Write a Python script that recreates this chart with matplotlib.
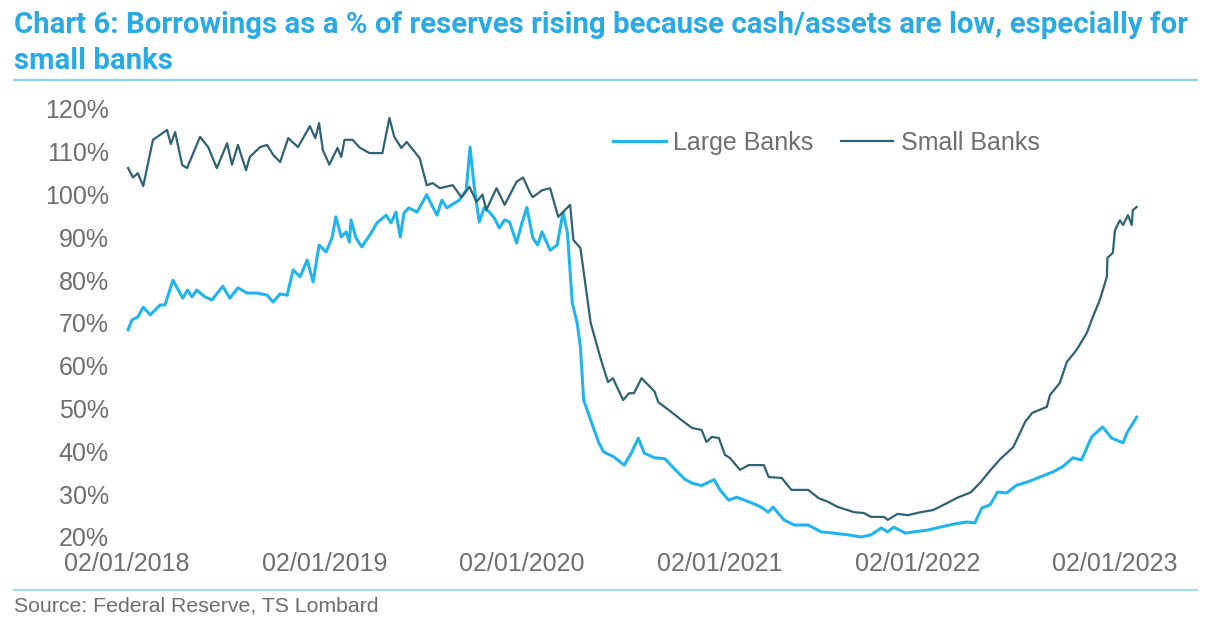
import matplotlib
matplotlib.use("Agg")
import matplotlib.pyplot as plt
from matplotlib.lines import Line2D
from matplotlib import font_manager
import pandas as pd

# ---------------- data ----------------
small_dates = [
    "2018-01-04", "2018-01-13", "2018-01-22", "2018-02-01", "2018-02-19", "2018-03-17",
    "2018-03-24", "2018-04-01", "2018-04-14", "2018-04-23", "2018-05-17", "2018-06-01",
    "2018-06-17", "2018-07-06", "2018-07-15", "2018-07-26", "2018-08-10", "2018-08-17",
    "2018-09-05", "2018-09-18", "2018-09-29", "2018-10-12", "2018-10-27", "2018-11-14",
    "2018-12-06", "2018-12-16", "2018-12-23", "2018-12-30", "2019-01-11", "2019-01-26",
    "2019-02-02", "2019-02-08", "2019-02-23", "2019-03-08", "2019-03-26", "2019-04-19",
    "2019-05-02", "2019-05-11", "2019-05-24", "2019-06-03", "2019-06-27", "2019-07-10",
    "2019-07-21", "2019-08-03", "2019-08-27", "2019-09-12", "2019-09-27", "2019-10-10",
    "2019-10-21", "2019-10-28", "2019-11-16", "2019-12-01", "2019-12-23", "2020-01-04",
    "2020-01-17", "2020-01-22", "2020-02-08", "2020-02-23", "2020-03-09", "2020-03-31",
    "2020-04-06", "2020-04-19", "2020-05-08", "2020-05-27", "2020-06-09", "2020-06-18",
    "2020-07-07", "2020-07-18", "2020-07-27", "2020-08-10", "2020-09-03", "2020-09-10",
    "2020-09-29", "2020-10-23", "2020-11-11", "2020-11-29", "2020-12-08", "2020-12-18",
    "2020-12-31", "2021-01-11", "2021-01-20", "2021-02-08", "2021-02-24", "2021-03-24",
    "2021-04-02", "2021-04-26", "2021-05-14", "2021-06-14", "2021-07-03", "2021-07-21",
    "2021-08-08", "2021-09-07", "2021-09-25", "2021-10-08", "2021-11-01", "2021-11-08",
    "2021-11-26", "2021-12-15", "2022-01-08", "2022-01-31", "2022-02-19", "2022-03-17",
    "2022-04-10", "2022-04-28", "2022-05-16", "2022-06-04", "2022-06-28", "2022-07-20",
    "2022-08-02", "2022-08-29", "2022-09-04", "2022-09-22", "2022-10-05", "2022-10-23",
    "2022-11-11", "2022-11-22", "2022-12-05", "2022-12-18", "2022-12-19", "2022-12-29",
    "2023-01-02", "2023-01-11", "2023-01-17", "2023-01-26", "2023-02-02", "2023-02-04",
    "2023-02-11",
]
small_banks = [
    106.2, 104.0, 105.0, 102.0, 112.8, 115.1,
    111.8, 114.6, 106.9, 106.2, 113.5, 111.1,
    106.2, 112.0, 107.0, 111.6, 105.7, 108.8,
    111.1, 111.6, 109.3, 107.6, 113.2, 111.1,
    116.0, 113.2, 116.7, 110.4, 107.0, 110.9,
    108.8, 112.8, 112.8, 111.0, 109.7, 109.7,
    117.9, 113.5, 110.9, 112.3, 108.5, 102.2,
    102.7, 101.5, 102.2, 99.4, 101.8, 98.3,
    100.0, 96.4, 101.5, 97.6, 103.0, 104.0,
    100.4, 99.4, 101.0, 101.5, 94.8, 97.6,
    89.4, 87.5, 70.0, 61.4, 56.2, 57.1,
    52.0, 53.6, 53.6, 57.1, 54.0, 51.5,
    49.7, 47.3, 45.5, 45.0, 42.2, 43.4,
    43.1, 39.2, 38.5, 35.7, 36.8, 36.8,
    34.0, 33.8, 31.0, 31.0, 29.1, 28.2,
    27.0, 25.8, 25.6, 24.7, 24.7, 24.0,
    25.4, 25.1, 25.8, 26.3, 27.5, 29.2,
    30.4, 32.7, 35.5, 38.2, 41.0, 46.9,
    49.0, 50.4, 53.2, 56.0, 60.9, 63.7,
    67.7, 71.4, 75.4, 80.8, 85.2, 86.4,
    91.7, 94.0, 92.9, 95.2, 92.9, 96.4,
    97.1,
]

large_dates = [
    "2018-01-04", "2018-01-11", "2018-01-22", "2018-02-01", "2018-02-14", "2018-03-04",
    "2018-03-13", "2018-03-28", "2018-04-15", "2018-04-24", "2018-05-02", "2018-05-11",
    "2018-05-26", "2018-06-08", "2018-06-28", "2018-07-11", "2018-07-26", "2018-08-12",
    "2018-08-31", "2018-09-18", "2018-09-29", "2018-10-12", "2018-10-25", "2018-11-05",
    "2018-11-18", "2018-12-01", "2018-12-12", "2018-12-23", "2019-01-05", "2019-01-16",
    "2019-01-23", "2019-02-02", "2019-02-11", "2019-02-17", "2019-02-20", "2019-03-01",
    "2019-03-12", "2019-03-29", "2019-04-09", "2019-04-26", "2019-05-05", "2019-05-14",
    "2019-05-22", "2019-05-29", "2019-06-07", "2019-06-22", "2019-07-10", "2019-07-19",
    "2019-07-29", "2019-08-07", "2019-08-16", "2019-09-08", "2019-09-21", "2019-09-28",
    "2019-10-06", "2019-10-15", "2019-10-24", "2019-11-03", "2019-11-12", "2019-11-21",
    "2019-12-01", "2019-12-10", "2019-12-23", "2020-01-02", "2020-01-11", "2020-01-22",
    "2020-01-31", "2020-02-08", "2020-02-23", "2020-03-07", "2020-03-18", "2020-03-26",
    "2020-04-04", "2020-04-13", "2020-04-19", "2020-04-25", "2020-05-08", "2020-05-23",
    "2020-06-01", "2020-06-20", "2020-07-09", "2020-07-22", "2020-08-04", "2020-08-15",
    "2020-09-03", "2020-09-22", "2020-10-10", "2020-10-29", "2020-11-11", "2020-11-29",
    "2020-12-22", "2021-01-02", "2021-01-18", "2021-02-02", "2021-02-25", "2021-03-19",
    "2021-04-01", "2021-04-10", "2021-04-30", "2021-05-19", "2021-06-14", "2021-07-08",
    "2021-08-01", "2021-08-27", "2021-09-20", "2021-10-08", "2021-10-27", "2021-11-08",
    "2021-11-19", "2021-12-11", "2021-12-26", "2022-01-20", "2022-02-13", "2022-03-09",
    "2022-04-03", "2022-04-18", "2022-05-01", "2022-05-16", "2022-05-30", "2022-06-16",
    "2022-07-04", "2022-07-23", "2022-08-16", "2022-09-09", "2022-09-27", "2022-10-16",
    "2022-11-01", "2022-11-20", "2022-12-10", "2022-12-27", "2023-01-17", "2023-01-24",
    "2023-02-11",
]
large_banks = [
    68.4, 70.7, 71.4, 73.7, 71.9, 74.2,
    74.2, 80.0, 75.8, 77.7, 76.1, 77.7,
    76.1, 75.4, 78.6, 75.8, 78.2, 77.0,
    77.0, 76.5, 74.9, 76.8, 76.5, 82.4,
    80.8, 84.7, 79.6, 88.2, 86.6, 89.9,
    94.8, 90.1, 91.3, 88.9, 94.1, 89.9,
    87.8, 91.0, 93.4, 95.2, 93.4, 95.9,
    90.1, 95.7, 96.9, 95.9, 100.0, 97.6,
    95.2, 98.7, 96.9, 98.7, 101.0, 111.1,
    101.5, 93.6, 96.9, 95.9, 94.5, 92.2,
    94.1, 93.6, 88.7, 93.4, 97.0, 89.9,
    88.2, 91.3, 87.0, 88.2, 95.9, 91.0,
    74.7, 70.0, 64.4, 52.0, 47.3, 42.0,
    39.9, 38.7, 36.8, 39.6, 43.1, 39.6,
    38.5, 38.3, 35.9, 33.5, 32.6, 32.0,
    33.4, 31.0, 28.6, 29.3, 28.2, 27.0,
    25.8, 27.0, 24.0, 22.8, 22.8, 21.2,
    20.9, 20.5, 20.0, 20.5, 22.1, 21.2,
    22.3, 20.9, 21.2, 21.6, 22.3, 23.0,
    23.5, 23.3, 26.8, 27.5, 30.5, 30.3,
    32.1, 32.8, 34.0, 35.2, 36.4, 38.5,
    38.0, 43.4, 45.7, 43.1, 42.0, 44.3,
    48.0,
]

y_ticks = [20, 30, 40, 50, 60, 70, 80, 90, 100, 110, 120]
x_tick_dates = ["2018-01-02", "2019-01-02", "2020-01-02", "2021-01-02", "2022-01-02", "2023-01-02"]
x_tick_labels = ["02/01/2018", "02/01/2019", "02/01/2020", "02/01/2021", "02/01/2022", "02/01/2023"]

title_lines = ["Chart 6: Borrowings as a % of reserves rising because cash/assets are low, especially for",
               "small banks"]
source_text = "Source: Federal Reserve, TS Lombard"

# ---------------- style ----------------
available = {f.name for f in font_manager.fontManager.ttflist}
body_font = "Liberation Sans" if "Liberation Sans" in available else "DejaVu Sans"
title_font = "Roboto" if "Roboto" in available else body_font

plt.rcParams["font.family"] = [body_font, "DejaVu Sans"]

C_LARGE = "#22B4EC"
C_SMALL = "#2E6275"
C_TITLE = "#2AAAE2"
C_TEXT = "#6E6E6E"

W, H = 1209, 633
fig = plt.figure(figsize=(W / 100, H / 100), dpi=100)
fig.patch.set_facecolor("white")

x0 = pd.Timestamp("2018-01-02")
x1 = pd.Timestamp("2023-02-20")
left_px, right_px = 127, 1141.5
top_px, bottom_px = 109, 537
ax = fig.add_axes([left_px / W, 1 - bottom_px / H, (right_px - left_px) / W, (bottom_px - top_px) / H])

ax.plot(pd.to_datetime(large_dates), large_banks, color=C_LARGE, lw=2.2, label="Large Banks",
        solid_joinstyle="round", clip_on=False)
ax.plot(pd.to_datetime(small_dates), small_banks, color=C_SMALL, lw=1.6, label="Small Banks",
        solid_joinstyle="round", clip_on=False)

ax.set_xlim(x0, x1)
ax.set_ylim(20, 120)
ax.set_yticks(y_ticks)
ax.set_yticklabels([f"{v}%" for v in y_ticks])
ax.set_xticks(pd.to_datetime(x_tick_dates))
ax.set_xticklabels(x_tick_labels)
for s in ax.spines.values():
    s.set_visible(False)
ax.tick_params(axis="both", length=0, labelsize=18, labelcolor=C_TEXT)
ax.tick_params(axis="y", pad=13)
ax.tick_params(axis="x", pad=11)
ax.set_facecolor("none")

leg = ax.legend(loc="center left", bbox_to_anchor=(613 / W, 1 - 143 / H),
                bbox_transform=fig.transFigure, ncol=2, frameon=False,
                fontsize=18, handlelength=2.1, handletextpad=0.3,
                columnspacing=1.1, borderpad=0, borderaxespad=0)
for t in leg.get_texts():
    t.set_color(C_TEXT)

for line, base_px in zip(title_lines, [33, 69]):
    fig.text(14 / W, 1 - base_px / H, line, ha="left", va="baseline", fontsize=21.2,
             fontweight="bold", color=C_TITLE, family=[title_font, "DejaVu Sans"])

fig.add_artist(Line2D([14 / W, 1197 / W], [1 - 80 / H, 1 - 80 / H], color="#8ED3EE", lw=1.6))
fig.add_artist(Line2D([14 / W, 1197 / W], [1 - 590 / H, 1 - 590 / H], color="#A6DDEA", lw=1.6))

fig.text(14 / W, 1 - 606 / H, source_text, ha="left", va="center", fontsize=15.3,
         color=C_TEXT)

fig.savefig("out.png", dpi=100, facecolor="white")
